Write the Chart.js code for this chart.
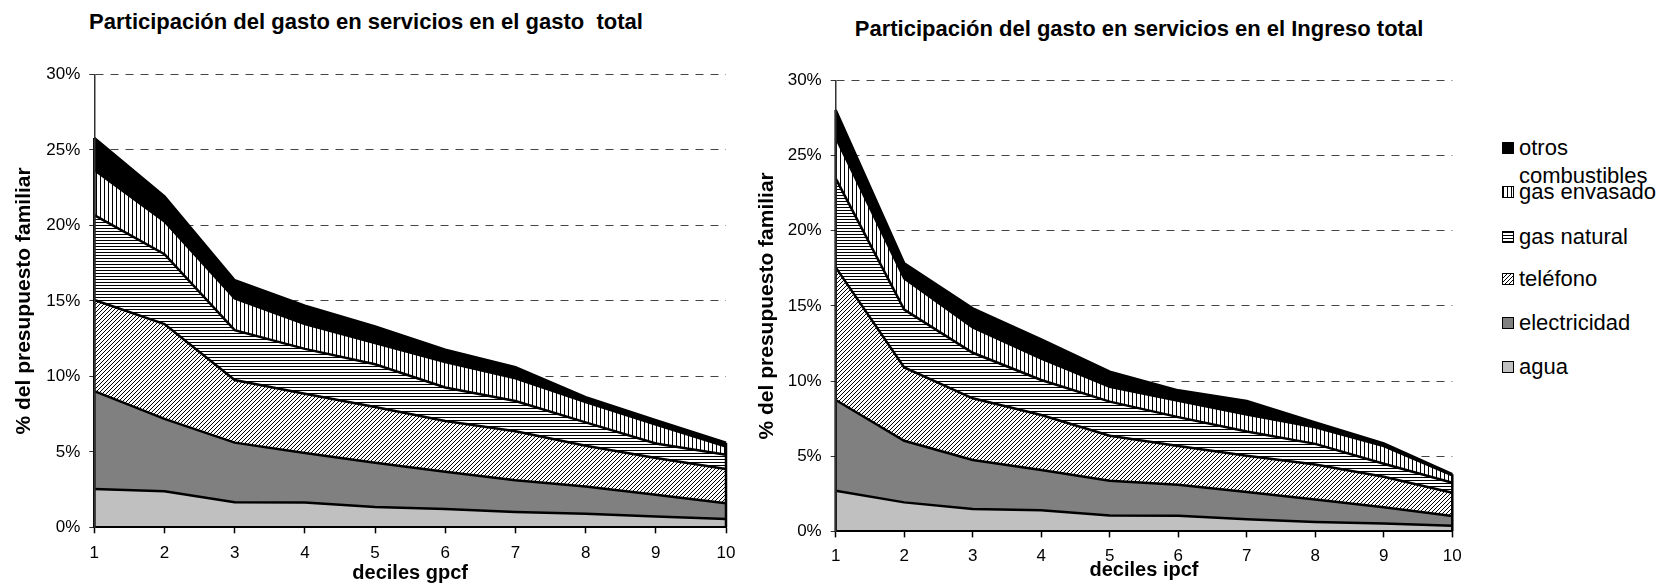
<!DOCTYPE html>
<html lang="es">
<head>
<meta charset="utf-8">
<title>Participación del gasto en servicios</title>
<script src="https://cdn.jsdelivr.net/npm/chart.js@4.4.1/dist/chart.umd.min.js"></script>
<style>
  body { margin: 0; background: #fff; font-family: "Liberation Sans", Arial, sans-serif; color: #000; }
  #wrap { position: relative; width: 1664px; height: 586px; overflow: hidden; }
  #wrap canvas { position: absolute; top: 0; }
  .chart-title { position: absolute; font-weight: bold; font-size: 22px; line-height: 24px;
                 white-space: pre; transform: translateX(-50%); }
  .swatch { position: absolute; left: 1502px; width: 12px; height: 12px; box-sizing: border-box;
            border: 1px solid #000; }
  .legend-text { position: absolute; left: 1519px; width: 145px; font-size: 22px; line-height: 28px; }
</style>
</head>
<body>
<div id="wrap">
  <div class="chart-title" style="left:366px; top:10px;">Participación del gasto en servicios en el gasto  total</div>
  <div class="chart-title" style="left:1139px; top:17px;">Participación del gasto en servicios en el Ingreso total</div>
  <canvas id="gastoChart" width="760" height="586" style="left:0;"></canvas>
  <canvas id="ingresoChart" width="740" height="586" style="left:740px;"></canvas>
  <div id="legend"></div>
</div>
<script>
const deciles = ['1', '2', '3', '4', '5', '6', '7', '8', '9', '10'];
const seriesNames = ['agua', 'electricidad', 'teléfono', 'gas natural', 'gas envasado', 'otros combustibles'];

// % del gasto total, por decil de gpcf
const aguaGasto   = [2.53, 2.39, 1.66, 1.64, 1.34, 1.22, 1.02, 0.90, 0.71, 0.55];
const electGasto  = [6.49, 4.79, 3.95, 3.28, 2.93, 2.46, 2.10, 1.81, 1.44, 1.05];
const telGasto    = [6.04, 6.28, 4.15, 3.93, 3.70, 3.36, 3.24, 2.69, 2.44, 2.26];
const gasNatGasto = [5.62, 4.63, 3.30, 2.97, 2.83, 2.22, 2.01, 1.55, 0.96, 0.94];
const gasEnvGasto = [3.00, 2.17, 2.11, 1.65, 1.40, 1.69, 1.50, 1.35, 1.25, 0.55];
const otrosGasto  = [2.12, 1.67, 1.20, 1.21, 1.11, 0.82, 0.73, 0.32, 0.30, 0.25];

// % del ingreso total, por decil de ipcf
const aguaIngreso   = [2.71, 1.93, 1.49, 1.40, 1.06, 1.04, 0.80, 0.62, 0.53, 0.38];
const electIngreso  = [6.03, 4.10, 3.26, 2.68, 2.31, 2.06, 1.82, 1.50, 1.07, 0.64];
const telIngreso    = [8.82, 4.87, 4.10, 3.66, 2.99, 2.58, 2.41, 2.33, 2.04, 1.55];
const gasNatIngreso = [5.92, 3.85, 3.03, 2.33, 2.27, 1.92, 1.61, 1.37, 0.86, 0.67];
const gasEnvIngreso = [2.72, 2.08, 1.69, 1.43, 0.99, 1.08, 1.14, 1.11, 1.18, 0.48];
const otrosIngreso  = [1.82, 1.00, 1.26, 1.27, 1.00, 0.70, 0.90, 0.31, 0.17, 0.08];

const yTicks = [0, 5, 10, 15, 20, 25, 30];

const FONT = '"Liberation Sans", Arial, sans-serif';

// small tiles for the hatched fills (white background, black lines)
function makeTile(kind) {
    const c = document.createElement('canvas');
    c.width = 4;
    c.height = kind === 'horizontal' ? 3 : 4;
    const g = c.getContext('2d');
    g.fillStyle = '#fff';
    g.fillRect(0, 0, c.width, c.height);
    g.fillStyle = '#000';
    if (kind === 'diagonal') {
        for (let i = 0; i < 4; i++) g.fillRect(i, 3 - i, 1, 1);
    } else if (kind === 'horizontal') {
        g.fillRect(0, 0, 4, 1);
    } else if (kind === 'vertical') {
        g.fillRect(0, 0, 1, 4);
    }
    return c;
}

const tiles = {
    diagonal: makeTile('diagonal'),
    horizontal: makeTile('horizontal'),
    vertical: makeTile('vertical')
};
const patCtx = document.createElement('canvas').getContext('2d');
function pattern(kind) {
    return patCtx.createPattern(tiles[kind], 'repeat');
}

// fill per series, bottom to top
const fills = [
    { color: '#c0c0c0' },
    { color: '#808080' },
    { tile: 'diagonal' },
    { tile: 'horizontal' },
    { tile: 'vertical' },
    { color: '#000000' }
];

// vertical black edges at the first and last decile
const areaEdges = {
    id: 'areaEdges',
    afterDatasetsDraw(chart) {
        const { ctx, scales: { x, y } } = chart;
        const n = chart.data.labels.length;
        ctx.save();
        ctx.strokeStyle = '#000';
        ctx.lineWidth = 2.5;
        [0, n - 1].forEach(i => {
            const total = chart.data.datasets.reduce((s, d) => s + d.data[i], 0);
            const px = x.getPixelForValue(i);
            ctx.beginPath();
            ctx.moveTo(px, y.getPixelForValue(0));
            ctx.lineTo(px, y.getPixelForValue(total));
            ctx.stroke();
        });
        ctx.restore();
    }
};

function buildChart(id, series, xTitle, box) {
    const datasets = series.map((values, i) => ({
        label: seriesNames[i],
        data: values,
        backgroundColor: fills[i].tile ? pattern(fills[i].tile) : fills[i].color,
        borderColor: '#000',
        borderWidth: 2.5,
        pointRadius: 0,
        tension: 0,
        fill: i === 0 ? 'origin' : '-1'
    }));

    return new Chart(document.getElementById(id), {
        type: 'line',
        data: { labels: deciles, datasets: datasets },
        plugins: [areaEdges],
        options: {
            responsive: false,
            animation: false,
            devicePixelRatio: 1,
            layout: { padding: { left: 0, right: box.right, top: box.top, bottom: 0 } },
            plugins: {
                legend: { display: false },
                title: { display: false },
                tooltip: { enabled: false }
            },
            scales: {
                x: {
                    offset: false,
                    grid: { display: true, drawOnChartArea: false, drawTicks: true,
                            tickLength: 6, tickColor: '#000', tickWidth: 1.5 },
                    border: { display: true, color: '#000', width: 2, z: 1 },
                    ticks: { color: '#000', font: { family: FONT, size: 17 }, padding: box.xTickPad,
                             maxRotation: 0, autoSkip: false },
                    title: { display: true, text: xTitle, color: '#000',
                             font: { family: FONT, size: 20, weight: 'bold' },
                             padding: { top: 0, bottom: box.xTitlePad } },
                    afterFit(scale) { scale.height = box.xHeight; }
                },
                y: {
                    stacked: true,
                    min: yTicks[0],
                    max: yTicks[yTicks.length - 1],
                    afterBuildTicks(scale) { scale.ticks = yTicks.map(v => ({ value: v })); },
                    grid: { color: '#444', lineWidth: 1, drawTicks: true, tickLength: 5,
                            tickColor: '#333', tickWidth: 1 },
                    border: { display: true, color: '#333', width: 1.5, dash: [8, 7], z: 1 },
                    ticks: { color: '#000', font: { family: FONT, size: 17 }, padding: 9,
                             callback: v => v + '%' },
                    title: { display: true, text: '% del presupuesto familiar', color: '#000',
                             font: { family: FONT, size: 21, weight: 'bold' },
                             padding: { top: box.yTitlePad, bottom: 0 } },
                    afterFit(scale) { scale.width = box.yWidth; }
                }
            }
        }
    });
}

buildChart('gastoChart',
    [aguaGasto, electGasto, telGasto, gasNatGasto, gasEnvGasto, otrosGasto],
    'deciles gpcf',
    { right: 34, top: 74.5, yWidth: 94.3, xHeight: 58.7, xTickPad: 9.8, xTitlePad: 1, yTitlePad: 11.9 });

buildChart('ingresoChart',
    [aguaIngreso, electIngreso, telIngreso, gasNatIngreso, gasEnvIngreso, otrosIngreso],
    'deciles ipcf',
    { right: 27.7, top: 80.3, yWidth: 95.7, xHeight: 54.6, xTickPad: 9, xTitlePad: 3.5, yTitlePad: 14.4 });

// legend, top entry first
const legendRows = [367, 323, 279, 237, 191.5, 148];
const legend = document.getElementById('legend');
seriesNames.forEach((name, i) => {
    const sw = document.createElement('div');
    sw.className = 'swatch';
    sw.style.top = (legendRows[i] - 6) + 'px';
    if (fills[i].tile) {
        sw.style.background = 'url(' + tiles[fills[i].tile].toDataURL() + ')';
    } else {
        sw.style.background = fills[i].color;
    }
    const txt = document.createElement('div');
    txt.className = 'legend-text';
    txt.style.top = (legendRows[i] - 14) + 'px';
    txt.textContent = name;
    legend.appendChild(sw);
    legend.appendChild(txt);
});
</script>
</body>
</html>
